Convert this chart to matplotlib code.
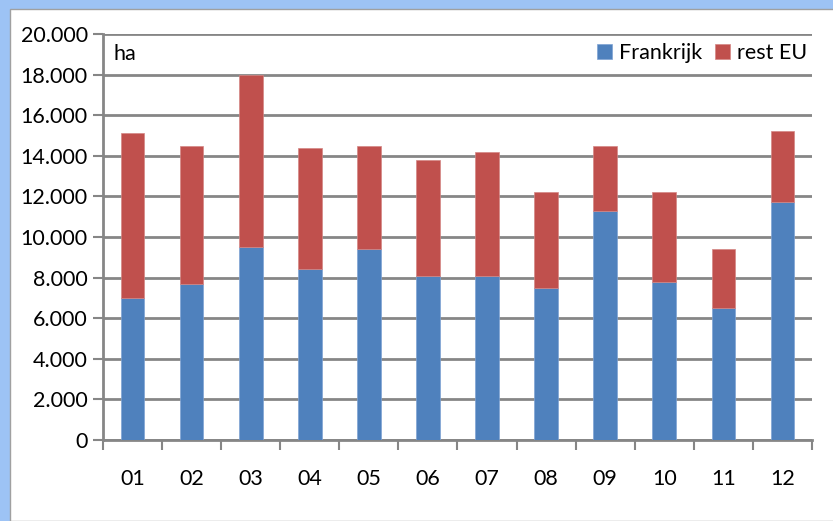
import matplotlib.pyplot as plt
from matplotlib.patches import Rectangle
from matplotlib.ticker import FuncFormatter
import numpy as np

# maanden en oppervlakte (ha)
months = ["01", "02", "03", "04", "05", "06", "07", "08", "09", "10", "11", "12"]
frankrijk = [7000, 7700, 9500, 8400, 9400, 8100, 8100, 7500, 11300, 7800, 6500, 11700]
totaal = [15100, 14500, 18000, 14400, 14500, 13800, 14200, 12200, 14500, 12200, 9400, 15200]
rest_eu = [t - f for t, f in zip(totaal, frankrijk)]

blue = "#4F81BD"
red = "#C0504D"
grid_col = "#868686"

plt.rcParams['font.family'] = ['Lato', 'DejaVu Sans']

fig = plt.figure(figsize=(8.33, 5.21), dpi=100)
fig.patch.set_facecolor("#9DC3F5")
# white chart area with a thin border
fig.patches.append(Rectangle((10 / 833, 0), 1, 1 - 9 / 521, transform=fig.transFigure,
                             facecolor="white", edgecolor="#A0A0A0", linewidth=1, zorder=-10))

ax = fig.add_axes([0.1237, 0.1555, 0.851, 0.7792])
ax.set_facecolor("none")

x = np.arange(len(months))
ax.bar(x, frankrijk, width=0.4, color=blue, edgecolor="#7FA3D4", linewidth=0.5,
       label="Frankrijk", zorder=3)
ax.bar(x, rest_eu, width=0.4, bottom=frankrijk, color=red, edgecolor="#D48684",
       linewidth=0.5, label="rest EU", zorder=3)

ax.set_xlim(-0.5, len(months) - 0.5)
ax.set_ylim(0, 20000)
ax.set_yticks(np.arange(0, 20001, 2000))
ax.yaxis.set_major_formatter(FuncFormatter(lambda v, p: f"{int(v):,}".replace(",", ".")))
ax.yaxis.grid(True, color=grid_col, linewidth=2, zorder=0)
ax.set_axisbelow(True)

# category boundaries as ticks, labels centred
ax.set_xticks(np.arange(-0.5, len(months)), minor=False)
ax.set_xticklabels([])
ax.set_xticks(x, minor=True)
ax.set_xticklabels(months, minor=True)
ax.tick_params(axis="x", which="major", length=7, width=1.5, color=grid_col)
ax.tick_params(axis="x", which="minor", length=0, pad=21, labelsize=15.5)
ax.tick_params(axis="y", length=7, width=1.5, color=grid_col, labelsize=15.5, pad=4)

for s in ["top", "right"]:
    ax.spines[s].set_visible(False)
for s in ["left", "bottom"]:
    ax.spines[s].set_color(grid_col)
    ax.spines[s].set_linewidth(2)

ax.text(0.015, 0.975, "ha", transform=ax.transAxes, fontsize=15.5, va="top", ha="left")
ax.legend(loc="upper right", bbox_to_anchor=(1.02, 1.025), ncol=2, frameon=False,
          fontsize=15.5, handlelength=0.7, handleheight=0.7, handletextpad=0.3,
          columnspacing=0.6)

fig.savefig("out.png", dpi=100)
